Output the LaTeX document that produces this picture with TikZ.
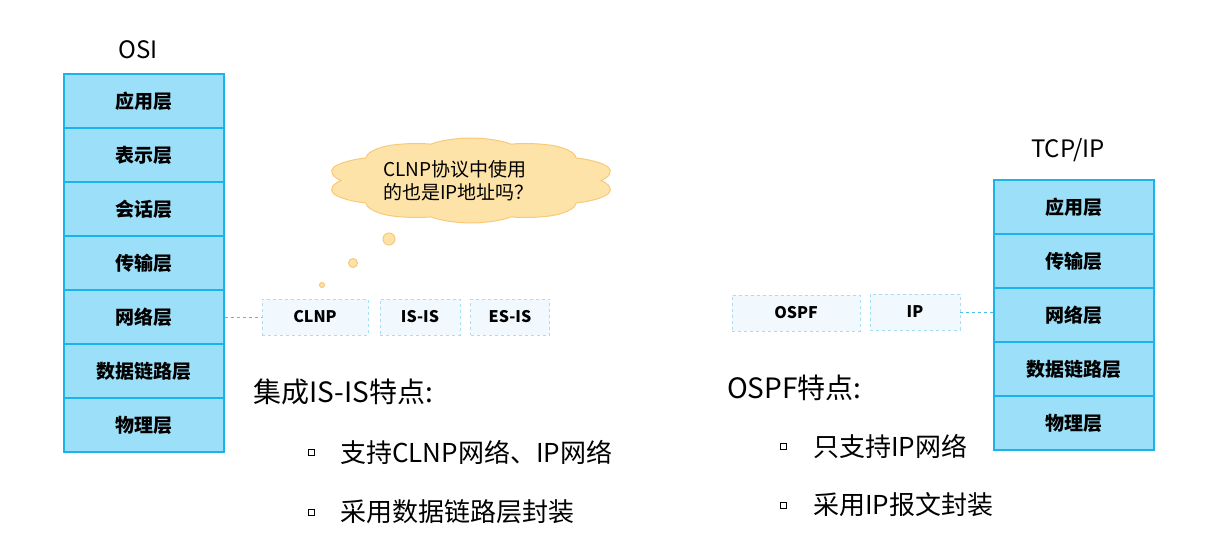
\documentclass[tikz,border=0pt]{standalone}
\usepackage{fontspec}
\setmainfont{Noto Sans CJK SC}
\usetikzlibrary{shapes.symbols}
\definecolor{layerfill}{HTML}{9CDFF8}
\definecolor{layerline}{HTML}{1BB3EC}
\definecolor{protofill}{HTML}{F1F9FE}
\definecolor{protoline}{HTML}{A6DEF6}
\definecolor{linkline}{HTML}{4DBDE9}
\definecolor{cloudfill}{HTML}{FDE3A8}
\definecolor{cloudline}{HTML}{F9C879}
\tikzset{
    layer/.style={draw=layerline, fill=layerfill, line width=1.2pt, minimum width=160pt, minimum height=54pt, font=\fontsize{19pt}{22pt}\selectfont\bfseries},
    proto/.style={draw=protoline, fill=protofill, dashed, line width=0.8pt, minimum height=36pt, font=\fontsize{16pt}{18pt}\selectfont\bfseries},
    title/.style={font=\fontsize{24pt}{28pt}\selectfont},
    point/.style={anchor=west, inner sep=0pt, font=\fontsize{26pt}{30pt}\selectfont},
    heading/.style={point, font=\fontsize{28pt}{32pt}\selectfont},
    bullet/.style={draw, line width=0.8pt, minimum size=6pt, inner sep=0pt},
    bubble/.style={circle, draw=cloudline, fill=cloudfill, line width=1pt, inner sep=0pt}}

\begin{document}
\begin{tikzpicture}[x=1pt, y=-1pt]
                    \useasboundingbox (0,0) rectangle (1220,541);

                    % OSI stack
                    \node[title] (osi) at (138,50) {OSI};
                    \node[layer] (O7) at (144,101) {应用层};
                    \node[layer] (O6) at (144,155) {表示层};
                    \node[layer] (O5) at (144,209) {会话层};
                    \node[layer] (O4) at (144,263) {传输层};
                    \node[layer] (O3) at (144,317) {网络层};
                    \node[layer] (O2) at (144,371) {数据链路层};
                    \node[layer] (O1) at (144,425) {物理层};

                    % TCP/IP stack
                    \node[title] (tcpip) at (1068,150) {TCP/IP};
                    \node[layer] (T5) at (1074,207) {应用层};
                    \node[layer] (T4) at (1074,261) {传输层};
                    \node[layer] (T3) at (1074,315) {网络层};
                    \node[layer] (T2) at (1074,369) {数据链路层};
                    \node[layer] (T1) at (1074,423) {物理层};

                    % protocols
                    \node[proto, minimum width=106pt] (clnp) at (315,317) {CLNP};
                    \node[proto, minimum width=80pt] (isis) at (420,317) {IS-IS};
                    \node[proto, minimum width=79pt] (esis) at (510,317) {ES-IS};
                    \node[proto, minimum width=128pt] (ospf) at (796,313) {OSPF};
                    \node[proto, minimum width=90pt] (ip) at (915,312) {IP};

                    \draw[linkline, dashed, line width=0.8pt] (O3.east) -- (clnp.west);
                    \draw[linkline, dashed, line width=0.8pt] (ip.east) -- (ip.east -| T3.west);

                    % thought cloud
                    \begin{scope}[shift={(471,180.5)}, xscale=3.4]
                    \node[cloud, cloud puffs=10, cloud puff arc=110, transform shape, draw=cloudline, fill=cloudfill, line width=1pt,
                          minimum width=85pt, minimum height=85pt] (ask) at (0,0) {};
                    \end{scope}
                    \node[anchor=west, align=left, inner sep=0pt, font=\fontsize{19pt}{23pt}\selectfont] (asktext) at (383,181) {CLNP协议中使用\\的也是IP地址吗？};
                    \node[bubble, minimum size=12pt] (b1) at (389,239) {};
                    \node[bubble, minimum size=9pt] (b2) at (353,263) {};
                    \node[bubble, minimum size=5pt] (b3) at (322,285) {};

                    % IS-IS notes
                    \node[heading] (isisnote) at (253,392) {集成IS-IS特点:};
                    \node[bullet] (s1) at (311,452) {};
                    \node[point] (isis1) at (340,452) {支持CLNP网络、IP网络};
                    \node[bullet] (s2) at (311,512) {};
                    \node[point] (isis2) at (340,512) {采用数据链路层封装};

                    % OSPF notes
                    \node[heading] (ospfnote) at (727,388) {OSPF特点:};
                    \node[bullet] (s3) at (783,446) {};
                    \node[point] (ospf1) at (813,446) {只支持IP网络};
                    \node[bullet] (s4) at (783,505) {};
                    \node[point] (ospf2) at (813,505) {采用IP报文封装};

                \end{tikzpicture}
\end{document}
